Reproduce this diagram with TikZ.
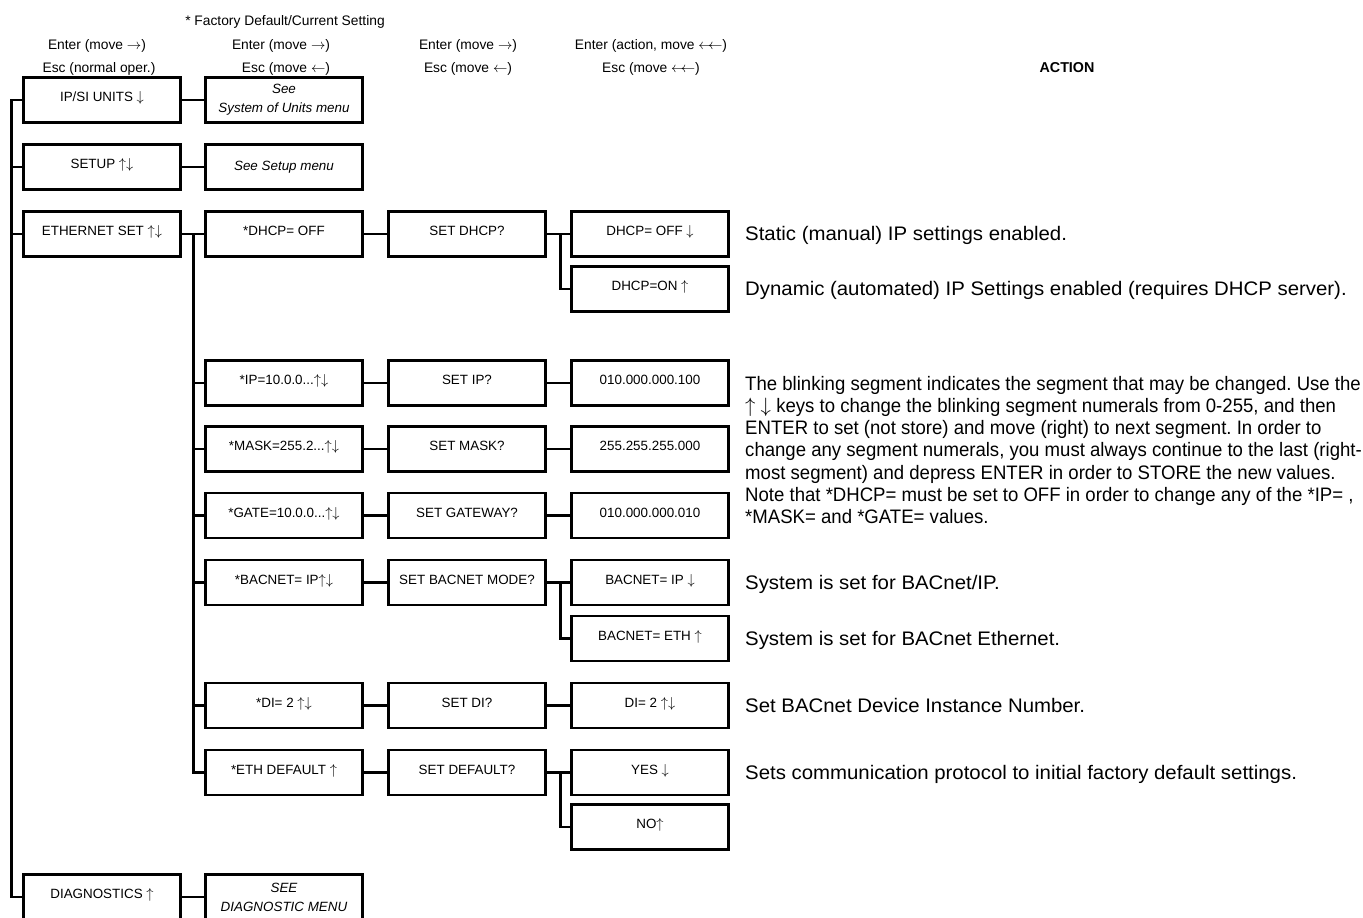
\documentclass[tikz,border=0pt]{standalone}
\usepackage{fontspec}
\setmainfont{Liberation Sans}
\newfontfamily\actfont[FakeStretch=1.04]{Liberation Sans}
\newfontfamily\parfont[FakeStretch=0.953]{Liberation Sans}
\newcommand\myup{\ensuremath{\uparrow}}
\newcommand\mydn{\ensuremath{\downarrow}}
\frenchspacing
\begin{document}
\begin{tikzpicture}[x=1pt,y=-1pt,
 box/.style={draw, line width=2.8pt, minimum width=157pt, minimum height=45pt, inner sep=0pt,
   font=\fontsize{13.4}{16}\selectfont, text height=9pt, text depth=6pt},
 ibox/.style={draw, line width=2.8pt, minimum width=157pt, minimum height=45pt, inner sep=0pt,
   font=\fontsize{13.4}{19}\selectfont\itshape, align=center},
 conn/.style={line width=2.8pt},
 hdr/.style={font=\fontsize{13.8}{16}\selectfont, anchor=base, inner sep=0pt},
 act/.style={font=\actfont\fontsize{19.6}{22.17}\selectfont, anchor=base west, align=left, inner sep=0pt},
 para/.style={font=\parfont\fontsize{19.5}{22.17}\selectfont, anchor=base west, align=left, inner sep=0pt}]
\useasboundingbox (0,0) rectangle (1363,918);

% headers
\node[hdr] (h0) at (285,25) {* Factory Default/Current Setting};
\node[hdr] (h1a) at (97,49) {Enter (move $\rightarrow$)};
\node[hdr] (h1b) at (99,72) {Esc (normal oper.)};
\node[hdr] (h2a) at (281,49) {Enter (move $\rightarrow$)};
\node[hdr] (h2b) at (286,72) {Esc (move $\leftarrow$)};
\node[hdr] (h3a) at (468,49) {Enter (move $\rightarrow$)};
\node[hdr] (h3b) at (468,72) {Esc (move $\leftarrow$)};
\node[hdr] (h4a) at (651,49) {Enter (action, move $\leftarrow\!\!\leftarrow$)};
\node[hdr] (h4b) at (651,72) {Esc (move $\leftarrow\!\!\leftarrow$)};
\node[hdr, font=\fontsize{14.3}{16}\selectfont\bfseries] (hact) at (1067,72) {ACTION};

% column 1
\node[box] (ipsi) at (102,100) {IP/SI UNITS \mydn};
\node[box] (setup) at (102,167) {SETUP \myup\mydn};
\node[box] (eth) at (102,234) {ETHERNET SET \myup\mydn};
\node[box] (diag) at (102,897) {DIAGNOSTICS \myup};

% column 2
\node[ibox] (sunits) at (284,100) {See\\System of Units menu};
\node[ibox] (ssetup) at (284,167) {See Setup menu};
\node[box] (dhcp) at (284,234) {*DHCP= OFF};
\node[box] (ip) at (284,383) {*IP=10.0.0...\myup\mydn};
\node[box] (mask) at (284,449) {*MASK=255.2...\myup\mydn};
\node[box] (gate) at (284,515.5) {*GATE=10.0.0...\myup\mydn};
\node[box] (bac) at (284,582.5) {*BACNET= IP\myup\mydn};
\node[box] (di) at (284,705.5) {*DI= 2 \myup\mydn};
\node[box] (ethdef) at (284,772.5) {*ETH DEFAULT \myup};
\node[ibox] (sdiag) at (284,897) {SEE\\DIAGNOSTIC MENU};

% column 3
\node[box] (sdhcp) at (467,234) {SET DHCP?};
\node[box] (sip) at (467,383) {SET IP?};
\node[box] (smask) at (467,449) {SET MASK?};
\node[box] (sgate) at (467,515.5) {SET GATEWAY?};
\node[box] (sbac) at (467,582.5) {SET BACNET MODE?};
\node[box] (sdi) at (467,705.5) {SET DI?};
\node[box] (sdef) at (467,772.5) {SET DEFAULT?};

% column 4
\node[box] (doff) at (650,234) {DHCP= OFF \mydn};
\node[box] (don) at (650,289) {DHCP=ON \myup};
\node[box] (vip) at (650,383) {010.000.000.100};
\node[box] (vmask) at (650,449) {255.255.255.000};
\node[box] (vgate) at (650,515.5) {010.000.000.010};
\node[box] (bip) at (650,582.5) {BACNET= IP \mydn};
\node[box] (beth) at (650,638.5) {BACNET= ETH \myup};
\node[box] (vdi) at (650,705.5) {DI= 2 \myup\mydn};
\node[box] (yes) at (650,772.5) {YES \mydn};
\node[box] (no) at (650,827) {NO\myup};

% connectors
\draw[conn] (ipsi.west) -- ++(-10.6,0) |- (diag.west);
\draw[conn] (setup.west) -- ++(-10.6,0);
\draw[conn] (eth.west) -- ++(-10.6,0);
\draw[conn] (ipsi.east) -- (sunits.west);
\draw[conn] (setup.east) -- (ssetup.west);
\draw[conn] (eth.east) -- (dhcp.west);
\draw[conn] (diag.east) -- (sdiag.west);
\draw[conn] ([xshift=-11pt]dhcp.west) |- (ethdef.west);
\foreach \n in {ip,mask,gate,bac,di}{\draw[conn] (\n.west) -- ++(-11,0);}
\draw[conn] (dhcp.east) -- (sdhcp.west);
\draw[conn] (ip.east) -- (sip.west);
\draw[conn] (mask.east) -- (smask.west);
\draw[conn] (gate.east) -- (sgate.west);
\draw[conn] (bac.east) -- (sbac.west);
\draw[conn] (di.east) -- (sdi.west);
\draw[conn] (ethdef.east) -- (sdef.west);
\draw[conn] (sdhcp.east) -- (doff.west);
\draw[conn] ([xshift=-10pt]doff.west) |- (don.west);
\draw[conn] (sip.east) -- (vip.west);
\draw[conn] (smask.east) -- (vmask.west);
\draw[conn] (sgate.east) -- (vgate.west);
\draw[conn] (sbac.east) -- (bip.west);
\draw[conn] ([xshift=-10pt]bip.west) |- (beth.west);
\draw[conn] (sdi.east) -- (vdi.west);
\draw[conn] (sdef.east) -- (yes.west);
\draw[conn] ([xshift=-10pt]yes.west) |- (no.west);

% action texts
\node[act] (a1) at (745,240.5) {Static (manual) IP settings enabled.};
\node[act] (a2) at (745,295.5) {Dynamic (automated) IP Settings enabled (requires DHCP server).};
\node[para] (a3) at (745,523.5) {The blinking segment indicates the segment that may be changed. Use the\\
\myup\ \mydn\ keys to change the blinking segment numerals from 0-255, and then\\
ENTER to set (not store) and move (right) to next segment. In order to\\
change any segment numerals, you must always continue to the last (right-\\
most segment) and depress ENTER in order to STORE the new values.\\
Note that *DHCP= must be set to OFF in order to change any of the *IP= ,\\
*MASK= and *GATE= values.};
\node[act] (a4) at (745,589) {System is set for BACnet/IP.};
\node[act] (a5) at (745,645) {System is set for BACnet Ethernet.};
\node[act] (a6) at (745,712) {Set BACnet Device Instance Number.};
\node[act] (a7) at (745,779) {Sets communication protocol to initial factory default settings.};
\end{tikzpicture}
\end{document}
